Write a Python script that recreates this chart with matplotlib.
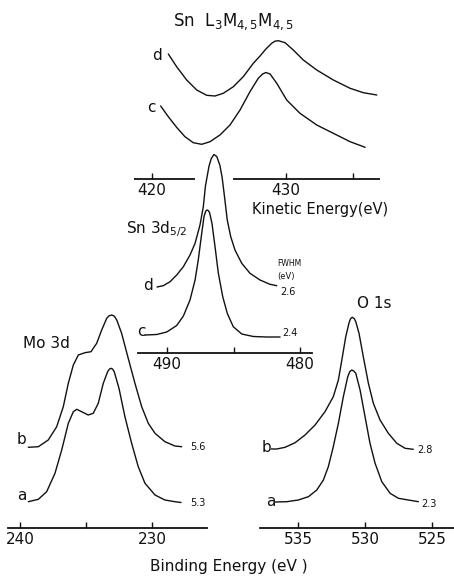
import matplotlib
matplotlib.use("Agg")
import matplotlib.pyplot as plt

plt.rcParams['font.family'] = ['DejaVu Sans']
plt.rcParams['mathtext.fontset'] = 'dejavusans'

W, H = 454, 576
INK = '#111111'

# ---------------- data ----------------
# Sn L3M4,5M4,5 Auger (kinetic energy, eV ; intensity, arb.)
lmm_d_ke = [421.22, 421.84, 422.59, 423.34, 424.08, 424.70, 425.32, 426.07, 426.81, 427.56,
            428.06, 428.50, 428.93, 429.18, 429.43, 429.93, 430.54, 431.29, 432.29, 433.53,
            434.78, 435.77, 436.77]
lmm_d_i = [125, 112.3, 99, 89, 83.7, 83, 85.7, 92.3, 102.3, 115.7,
           123, 130, 135.7, 137.8, 138.3, 136.3, 129, 119, 109, 99,
           90.7, 86.3, 84]
lmm_c_ke = [420.65, 421.22, 421.84, 422.46, 423.08, 423.71, 424.33, 425.07, 425.82, 426.57, 427.31,
            427.93, 428.25, 428.50, 428.81, 429.31, 430.05, 431.04, 432.29, 433.53, 434.78, 435.90]
lmm_c_i = [73, 62.3, 51.7, 42.3, 36.3, 34.7, 37.3, 44, 54, 69, 87.3,
           100.7, 105, 106.5, 105, 95.7, 79, 65.7, 54, 45.7, 37.3, 31.7]

# Sn 3d5/2 (binding energy, eV)
sn_d_be = [490.75, 490.28, 489.77, 489.27, 488.77, 488.27, 487.89, 487.52, 487.27, 487.11, 486.84,
           486.67, 486.47, 486.26, 486.03, 485.86, 485.71, 485.47, 485.21, 484.89, 484.38, 483.76,
           483.01, 482.26, 481.75]
sn_d_i = [66, 67.3, 71.3, 78, 86.3, 98, 109.7, 128, 146.3, 167, 187,
          194.5, 198.5, 196.5, 188, 176, 160, 133, 116.3, 103, 89.7, 79.7,
          73, 68.7, 67.3]
sn_c_be = [491.65, 490.77, 490.02, 489.27, 488.77, 488.27, 487.89, 487.65, 487.39, 487.22, 487.10,
           487.00, 486.90, 486.80, 486.62, 486.39, 486.14, 485.81, 485.47, 485.02, 484.38, 483.51,
           482.50, 481.50]
sn_c_i = [18, 18.5, 21, 27.5, 37, 53, 73, 93, 119.7, 136.3, 141.5,
          143, 142.5, 140.5, 129.7, 106.3, 79.7, 56.3, 39.7, 26.3, 19, 16.5,
          16, 16]

# Mo 3d
mo_b_be = [239.37, 238.61, 237.86, 237.22, 236.72, 236.34, 235.96, 235.58, 235.08, 234.62, 234.19,
           233.81, 233.43, 233.25, 233.05, 232.85, 232.67, 232.30, 231.80, 231.29, 230.78, 230.28,
           229.77, 229.02, 228.26, 227.75]
mo_b_i = [80.7, 81.3, 88, 101.3, 121.3, 144.7, 163, 173, 175.3, 176.3, 184.7,
          198, 209.7, 212.2, 213, 211.8, 208, 194.7, 169.7, 144.7, 121.3, 104.7,
          94.7, 86.3, 82, 81.3]
mo_a_be = [239.37, 238.61, 237.98, 237.35, 236.84, 236.34, 235.96, 235.70, 235.33, 234.83, 234.45,
           234.07, 233.69, 233.36, 233.24, 233.11, 232.98, 232.86, 232.50, 232.05, 231.54, 231.04,
           230.53, 229.77, 229.02, 228.26, 227.80]
mo_a_i = [26.3, 28.7, 36.3, 54.7, 78, 104.7, 116.3, 118.7, 116.3, 113, 114.7,
          124.7, 144.7, 156.3, 158.7, 159.7, 158.9, 156.3, 139.7, 111.3, 84.7, 61.3,
          44.7, 33, 28, 26.3, 25.5]

# O 1s
o_b_be = [537.00, 536.59, 535.97, 535.22, 534.48, 533.73, 532.99, 532.37, 531.99, 531.69, 531.44,
          531.19, 531.08, 530.95, 530.80, 530.69, 530.45, 530.13, 529.75, 529.38, 528.88, 528.26,
          527.63, 527.01, 526.40]
o_b_i = [79, 79, 80.7, 85.3, 93, 103, 116.3, 131.3, 148, 171.3, 191.3,
         205.5, 209.3, 210.7, 209.3, 206.3, 194.7, 171.3, 144.7, 124.7, 108, 94.7,
         84.7, 79.7, 78.7]
o_a_be = [536.70, 535.84, 534.98, 534.23, 533.60, 533.11, 532.74, 532.37, 531.99, 531.62, 531.29,
          531.14, 530.99, 530.84, 530.69, 530.37, 530.00, 529.63, 529.25, 528.75, 528.13, 527.51,
          526.77, 526.02]
o_a_i = [26, 26.3, 28, 31.3, 38, 48, 61.3, 81.3, 104.7, 131.3, 151.3,
         156.3, 158, 157, 154.7, 138, 111.3, 84.7, 64.7, 46.3, 34.7, 29.7,
         28, 26.3]

lmm_ticks = [420, 430, 435]
lmm_ticklabels = ['420', '430', '']
sn_ticks = [490, 485, 480]
sn_ticklabels = ['490', '', '480']
mo_ticks = [240, 235, 230]
mo_ticklabels = ['240', '', '230']
o_ticks = [535, 530, 525]
o_ticklabels = ['535', '530', '525']

fwhm_sn = ['2.6', '2.4']
fwhm_mo = ['5.6', '5.3']
fwhm_o = ['2.8', '2.3']

# ---------------- layout helpers ----------------
fig = plt.figure(figsize=(W / 100, H / 100), dpi=100)


def px_axes(x0, x1, ytop, ybot, xlim):
    ax = fig.add_axes([x0 / W, 1 - ybot / H, (x1 - x0) / W, (ybot - ytop) / H])
    ax.patch.set_visible(False)
    ax.set_xlim(*xlim)
    ax.set_ylim(0, ybot - ytop)
    for s in ['top', 'right', 'left']:
        ax.spines[s].set_visible(False)
    ax.spines['bottom'].set_linewidth(1.3)
    ax.spines['bottom'].set_color(INK)
    ax.set_yticks([])
    ax.tick_params(axis='x', direction='in', length=4, width=1.0, colors=INK,
                   labelsize=11, pad=3)
    return ax


def ftext(x, y, s, size=11, ha='left', va='center', **kw):
    fig.text(x / W, 1 - y / H, s, fontsize=size, ha=ha, va=va, color=INK, **kw)


LINE = dict(color=INK, lw=1.0, solid_joinstyle='round', solid_capstyle='round')

# ---- Sn LMM (kinetic energy) ----
ax1 = px_axes(134, 380, 30, 179, (418.66, 437.01))
ax1.spines['bottom'].set_visible(False)
ax1.hlines(0, 418.66, 423.21, color=INK, lw=1.3, clip_on=False)
ax1.hlines(0, 426.04, 437.01, color=INK, lw=1.3, clip_on=False)
ax1.set_xticks(lmm_ticks)
ax1.set_xticklabels(lmm_ticklabels)
ax1.plot(lmm_d_ke, lmm_d_i, **LINE)
ax1.plot(lmm_c_ke, lmm_c_i, **LINE)

# ---- Sn 3d5/2 ----
ax2 = px_axes(138, 312, 140, 353, (492.18, 479.10))
ax2.set_xticks(sn_ticks)
ax2.set_xticklabels(sn_ticklabels)
ax2.plot(sn_d_be, sn_d_i, **LINE)
ax2.plot(sn_c_be, sn_c_i, **LINE)

# ---- Mo 3d ----
ax3 = px_axes(8, 207, 300, 528, (240.91, 225.83))
ax3.set_xticks(mo_ticks)
ax3.set_xticklabels(mo_ticklabels)
ax3.plot(mo_b_be, mo_b_i, **LINE)
ax3.plot(mo_a_be, mo_a_i, **LINE)

# ---- O 1s ----
ax4 = px_axes(260, 454, 300, 528, (537.84, 523.36))
ax4.set_xticks(o_ticks)
ax4.set_xticklabels(o_ticklabels)
ax4.plot(o_b_be, o_b_i, **LINE)
ax4.plot(o_a_be, o_a_i, **LINE)

# ---------------- text ----------------
ftext(173, 22, r'Sn  L$_3$M$_{4,5}$M$_{4,5}$', size=12)
ftext(152, 55, 'd', size=11)
ftext(147, 107, 'c', size=11)
ftext(252, 210, 'Kinetic Energy(eV)', size=10.5)

ftext(126, 229, r'Sn 3d$_{5/2}$', size=11)
ftext(143, 286, 'd', size=11)
ftext(137, 331, 'c', size=11)
ftext(277, 263, 'FWHM', size=5.5)
ftext(277, 276, '(eV)', size=6)
ftext(280, 292, fwhm_sn[0], size=7)
ftext(282, 333, fwhm_sn[1], size=7)

ftext(23, 344, 'Mo 3d', size=11)
ftext(17, 440, 'b', size=11)
ftext(17, 495, 'a', size=11)
ftext(190, 447, fwhm_mo[0], size=7)
ftext(190, 503, fwhm_mo[1], size=7)

ftext(357, 303, 'O 1s', size=11)
ftext(262, 447, 'b', size=11)
ftext(266, 502, 'a', size=11)
ftext(417, 450, fwhm_o[0], size=7)
ftext(421, 504, fwhm_o[1], size=7)

ftext(229, 566, 'Binding Energy (eV )', size=11, ha='center')

fig.savefig('out.png', dpi=100)
